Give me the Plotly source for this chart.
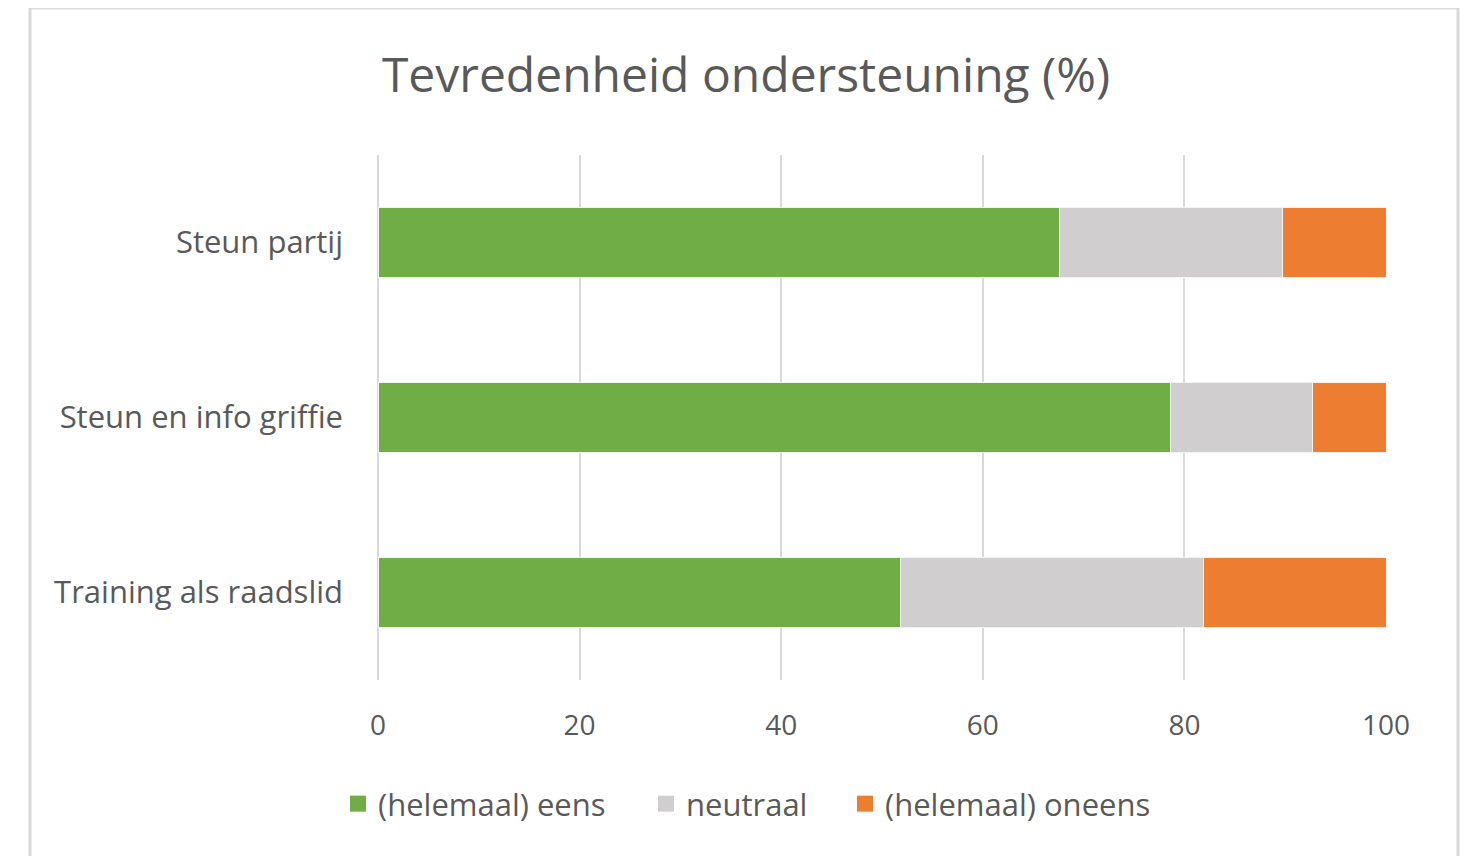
import plotly.graph_objects as go

categories = ["Steun partij", "Steun en info griffie", "Training als raadslid"]
series_names = ["(helemaal) eens", "neutraal", "(helemaal) oneens"]
eens = [67.6, 78.6, 51.8]
neutraal = [22.1, 14.1, 30.1]
oneens = [10.3, 7.3, 18.1]
colors = ["#70AD47", "#D0CECE", "#ED7D31"]
x_ticks = [0, 20, 40, 60, 80, 100]

# page body adds an 8px offset; positions below are target screen coords minus 8
OFF = 8
W, H = 1469, 856
L, T = 378 - OFF, 155 - OFF
R = W - (1386 - OFF)
B = H - (680 - OFF)
pw, ph = W - L - R, H - T - B
ybot = T + ph  # figure y of plot bottom


def py(screen_y):
    return (ybot - (screen_y - OFF)) / ph


def px(screen_x):
    return (screen_x - OFF - L) / pw


legend_ids = ["legend", "legend2", "legend3"]
legend_square_left = [350, 658, 857]
LEG_D = 12

fig = go.Figure()
for name, vals, col, lid in zip(series_names, [eens, neutraal, oneens], colors, legend_ids):
    fig.add_trace(go.Bar(
        y=categories, x=vals, name=name, orientation="h", showlegend=False,
        marker=dict(color=col, line=dict(color="#F2F2F2", width=1)),
    ))
    fig.add_trace(go.Scatter(
        x=[None], y=[None], mode="markers", name=name, legend=lid,
        marker=dict(symbol="square", size=16, color=col),
    ))

font_family = "Open Sans"
layout_legends = {}
for lid, sx in zip(legend_ids, legend_square_left):
    layout_legends[lid] = dict(
        orientation="h", x=px(sx - LEG_D), xanchor="left",
        y=py(804), yanchor="middle", bgcolor="rgba(0,0,0,0)",
        font=dict(size=31, color="#595959"), itemwidth=30,
    )

fig.update_layout(
    width=W, height=H,
    barmode="stack", bargap=0.6,
    margin=dict(l=L, r=R, t=T, b=B, pad=0),
    paper_bgcolor="white", plot_bgcolor="white",
    font=dict(family=font_family, color="#595959", size=28),
    title=dict(text="Tevredenheid ondersteuning (%)", x=(746 - OFF) / W, xanchor="center",
               y=1 - (75 - OFF) / H, yanchor="middle",
               font=dict(size=48, color="#595959", family=font_family)),
    xaxis=dict(range=[0, 100], tickvals=x_ticks, showgrid=True, gridcolor="#D9D9D9",
               gridwidth=2, zeroline=True, zerolinecolor="#D9D9D9", zerolinewidth=2,
               showline=False, ticks="", ticklabelstandoff=26,
               tickfont=dict(size=28, color="#595959")),
    yaxis=dict(autorange="reversed", showgrid=False, showline=False, ticks="",
               ticklabelstandoff=34, tickfont=dict(size=31, color="#595959")),
    showlegend=True,
    **layout_legends,
)

fig.add_shape(type="rect", xref="paper", yref="paper",
              x0=px(30), x1=px(1458),
              y0=py(880), y1=py(8),
              line=dict(color="#D9D9D9", width=3), layer="below")

fig.write_html("out.html")
